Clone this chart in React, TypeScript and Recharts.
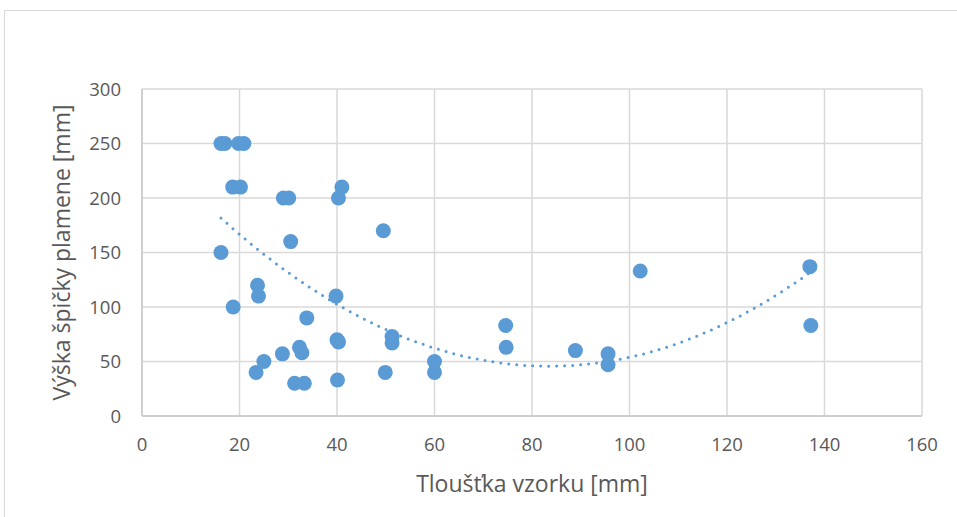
import { CartesianGrid, Label, Scatter, ScatterChart, XAxis, YAxis } from "recharts";

// Tloušťka vzorku [mm] vs. výška špičky plamene [mm]
const tloustka = [
  16.2, 17.0, 19.8, 20.9, 18.6, 20.2, 29.0, 30.1, 41.0, 40.3, 49.5, 30.5, 16.2, 23.7, 23.9, 18.7, 39.8, 33.8,
  40.0, 40.3, 51.3, 51.3, 32.3, 32.8, 28.8, 25.0, 23.4, 31.3, 33.3, 40.1, 49.9, 74.6, 74.7, 60.0, 60.0, 88.9,
  95.6, 95.6, 102.2, 137.0, 137.2,
];
const vyska = [
  250, 250, 250, 250, 210, 210, 200, 200, 210, 200, 170, 160, 150, 120, 110, 100, 110, 90,
  70, 68, 73, 67, 63, 58, 57, 50, 40, 30, 30, 33, 40, 83, 63, 50, 40, 60,
  57, 47, 133, 137, 83,
];
const xTicks = [0, 20, 40, 60, 80, 100, 120, 140, 160];
const yTicks = [0, 50, 100, 150, 200, 250, 300];

// koeficienty polynomického trendu 2. řádu (y = a·x² + b·x + c)
const trendKoef = [0.030016, -5.0124, 254.93];

const BLUE = "#5b9bd5";
const GRID = "#d9d9d9";
const TEXT = "#595959";
const FONT = "'Open Sans', sans-serif";

const body = tloustka.map((x, i) => ({ x, y: vyska[i] }));

const [a, b, c] = trendKoef;
const xMin = Math.min(...tloustka);
const xMax = Math.max(...tloustka);
const trend = Array.from({ length: 61 }, (_, i) => {
  const x = xMin + ((xMax - xMin) * i) / 60;
  return { x, y: a * x * x + b * x + c };
});

export default function App() {
  return (
    <div style={{ position: "fixed", left: 0, top: 0, width: 957, height: 517, background: "#fff", overflow: "hidden" }}>
      <div style={{ position: "absolute", left: 4, top: 10, width: 1000, height: 600, border: `1px solid ${GRID}` }} />
      <div style={{ position: "absolute", left: 0, top: 0 }}>
        <ScatterChart width={957} height={517} margin={{ top: 89, right: 35, bottom: 1, left: 0 }}>
          <CartesianGrid stroke={GRID} strokeWidth={1.5} />
          <XAxis
            type="number"
            dataKey="x"
            domain={[0, 160]}
            ticks={xTicks}
            height={100}
            tickSize={0}
            tickMargin={22}
            axisLine={{ stroke: "#c8c8c8", strokeWidth: 1.5 }}
            tick={{ fill: TEXT, fontSize: 18.5, fontFamily: FONT }}
          >
            <Label
              value="Tloušťka vzorku [mm]"
              position="insideBottom"
              offset={24}
              fill={TEXT}
              style={{ fontSize: 23, fontFamily: FONT }}
            />
          </XAxis>
          <YAxis
            type="number"
            dataKey="y"
            domain={[0, 300]}
            ticks={yTicks}
            width={142}
            tickSize={0}
            tickMargin={21}
            axisLine={{ stroke: "#c8c8c8", strokeWidth: 1.5 }}
            tick={{ fill: TEXT, fontSize: 18.5, fontFamily: FONT }}
          >
            <Label
              value="Výška špičky plamene [mm]"
              angle={-90}
              position="insideLeft"
              offset={62}
              fill={TEXT}
              style={{ fontSize: 23, fontFamily: FONT, textAnchor: "middle" }}
            />
          </YAxis>
          <Scatter
            data={body}
            isAnimationActive={false}
            shape={(p: any) => <circle cx={p.cx} cy={p.cy} r={7.5} fill={BLUE} />}
          />
          <Scatter
            data={trend}
            isAnimationActive={false}
            line={{ stroke: BLUE, strokeWidth: 3, strokeDasharray: "0 8", strokeLinecap: "round" }}
            shape={() => <g />}
          />
        </ScatterChart>
      </div>
    </div>
  );
}
